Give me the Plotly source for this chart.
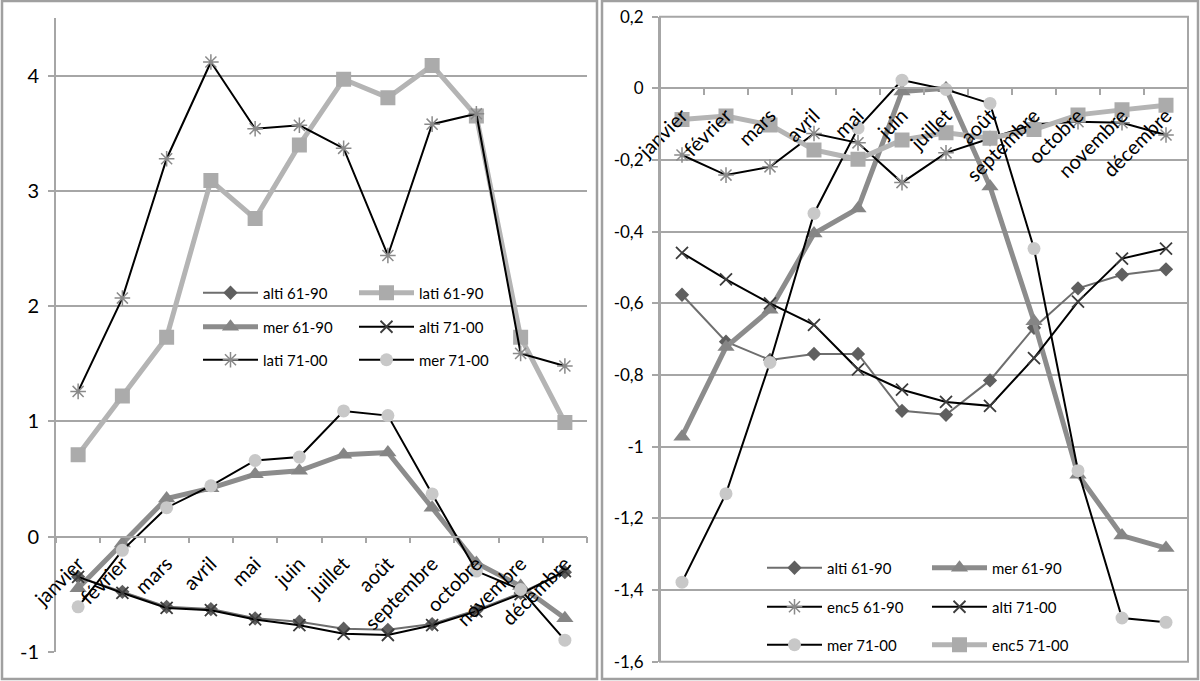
import plotly.graph_objects as go

mois = ["janvier", "février", "mars", "avril", "mai", "juin", "juillet",
        "août", "septembre", "octobre", "novembre", "décembre"]

# panneau gauche
g_alti_6190 = [-0.35, -0.48, -0.61, -0.63, -0.71, -0.74, -0.80, -0.81, -0.76, -0.64, -0.49, -0.31]
g_lati_6190 = [0.71, 1.22, 1.73, 3.09, 2.76, 3.40, 3.97, 3.81, 4.09, 3.65, 1.73, 0.99]
g_mer_6190 = [-0.45, -0.06, 0.33, 0.42, 0.54, 0.57, 0.71, 0.73, 0.25, -0.23, -0.43, -0.71]
g_alti_7100 = [-0.35, -0.49, -0.62, -0.64, -0.72, -0.77, -0.845, -0.855, -0.77, -0.65, -0.50, -0.30]
g_lati_7100 = [1.26, 2.07, 3.28, 4.12, 3.54, 3.57, 3.37, 2.44, 3.58, 3.67, 1.59, 1.48]
g_mer_7100 = [-0.61, -0.12, 0.25, 0.44, 0.66, 0.69, 1.09, 1.05, 0.37, -0.30, -0.46, -0.90]

# panneau droit
d_alti_6190 = [-0.576, -0.707, -0.758, -0.741, -0.741, -0.90, -0.911, -0.815, -0.668, -0.558, -0.52, -0.505]
d_mer_6190 = [-0.972, -0.722, -0.618, -0.405, -0.335, -0.009, 0.0, -0.274, -0.65, -1.078, -1.248, -1.283]
d_enc5_6190 = [-0.186, -0.242, -0.219, -0.126, -0.152, -0.263, -0.18, -0.14, -0.10, -0.093, -0.096, -0.13]
d_alti_7100 = [-0.459, -0.533, -0.60, -0.66, -0.784, -0.841, -0.875, -0.886, -0.753, -0.595, -0.475, -0.447]
d_mer_7100 = [-1.378, -1.131, -0.765, -0.349, -0.111, 0.023, -0.003, -0.042, -0.447, -1.067, -1.478, -1.49]
d_enc5_7100 = [-0.087, -0.077, -0.102, -0.172, -0.198, -0.144, -0.124, -0.139, -0.115, -0.074, -0.06, -0.047]

g_ticks = [-1, 0, 1, 2, 3, 4]
g_ticktext = ["-1", "0", "1", "2", "3", "4"]
d_ticks = [-1.6, -1.4, -1.2, -1.0, -0.8, -0.6, -0.4, -0.2, 0.0, 0.2]
d_ticktext = ["-1,6", "-1,4", "-1,2", "-1", "-0,8", "-0,6", "-0,4", "-0,2", "0", "0,2"]

W, H = 1200, 681
FONT = "Lato"
GRID = "#a6a6a6"

styles = {
    "alti61": dict(line=dict(color="#6e6e6e", width=2),
                   marker=dict(symbol="diamond", size=11, color="#5f5f5f")),
    "lati61": dict(line=dict(color="#b4b4b4", width=5),
                   marker=dict(symbol="square", size=15, color="#ababab")),
    "mer61": dict(line=dict(color="#8c8c8c", width=5),
                  marker=dict(symbol="triangle-up", size=15, color="#858585")),
    "alti71": dict(line=dict(color="black", width=2),
                   marker=dict(symbol="x-thin", size=12, color="#3c3c3c",
                               line=dict(color="#3c3c3c", width=1.8))),
    "star71": dict(line=dict(color="black", width=2),
                   marker=dict(symbol="asterisk", size=13, color="#8a8a8a",
                               line=dict(color="#8a8a8a", width=1.5))),
    "mer71": dict(line=dict(color="black", width=2),
                  marker=dict(symbol="circle", size=13, color="#c8c8c8")),
}

fig = go.Figure()


def add(y, name, style, xa, ya, legend):
    fig.add_trace(go.Scatter(x=mois, y=y, name=name, mode="lines+markers",
                             xaxis=xa, yaxis=ya, legend=legend,
                             hoverinfo="skip", **styles[style]))


add(g_alti_6190, "alti 61-90", "alti61", "x", "y", "legend")
add(g_lati_6190, "lati 61-90", "lati61", "x", "y", "legend")
add(g_mer_6190, "mer 61-90", "mer61", "x", "y", "legend2")
add(g_alti_7100, "alti 71-00", "alti71", "x", "y", "legend2")
add(g_lati_7100, "lati 71-00", "star71", "x", "y", "legend3")
add(g_mer_7100, "mer 71-00", "mer71", "x", "y", "legend3")

add(d_alti_6190, "alti 61-90", "alti61", "x2", "y2", "legend4")
add(d_mer_6190, "mer 61-90", "mer61", "x2", "y2", "legend4")
add(d_enc5_6190, "enc5 61-90", "star71", "x2", "y2", "legend5")
add(d_alti_7100, "alti 71-00", "alti71", "x2", "y2", "legend5")
add(d_mer_7100, "mer 71-00", "mer71", "x2", "y2", "legend6")
add(d_enc5_7100, "enc5 71-00", "lati61", "x2", "y2", "legend6")

# domaines en pixels -> fraction de la page
gx = [56 / W, 587 / W]
gy = [1 - 651.7 / H, 1 - 18.2 / H]
dx = [660 / W, 1188 / W]
dy = [1 - 661.7 / H, 1 - 16.7 / H]
g_range = [-1, 4.5]
d_range = [-1.6, 0.2]


def zero_pos(dom, rng):
    return dom[0] + (0 - rng[0]) / (rng[1] - rng[0]) * (dom[1] - dom[0])


xcommon = dict(type="category", tickson="boundaries", ticks="outside", ticklen=6,
               tickcolor=GRID, tickwidth=1.5, showline=True, linecolor=GRID,
               linewidth=1.5, showgrid=False, tickangle=-45, anchor="free",
               automargin=False, ticklabelstandoff=7,
               tickfont=dict(family=FONT, size=20, color="black"),
               range=[-0.5, 11.5])
ycommon = dict(ticks="outside", ticklen=6, tickcolor=GRID, tickwidth=1.5,
               showline=True, linecolor=GRID, linewidth=2, gridcolor=GRID,
               gridwidth=1.5, zeroline=False, automargin=False,
               ticklabelstandoff=5)

fig.update_layout(
    width=W, height=H,
    margin=dict(l=0, r=0, t=0, b=0, autoexpand=False),
    paper_bgcolor="white", plot_bgcolor="white",
    showlegend=True,
    xaxis=dict(domain=gx, position=zero_pos(gy, g_range), **xcommon),
    yaxis=dict(domain=gy, range=g_range, tickvals=g_ticks, ticktext=g_ticktext,
               anchor="x", tickfont=dict(family=FONT, size=20, color="black"),
               **ycommon),
    xaxis2=dict(domain=dx, position=zero_pos(dy, d_range), **xcommon),
    yaxis2=dict(domain=dy, range=d_range, tickvals=d_ticks, ticktext=d_ticktext,
                anchor="x2", tickfont=dict(family=FONT, size=17, color="black"),
                **ycommon),
)

leg = dict(orientation="h", xanchor="left", yanchor="middle",
           entrywidthmode="pixels", itemwidth=55, bgcolor="rgba(0,0,0,0)",
           font=dict(family=FONT, size=15, color="black"), itemclick=False,
           itemsizing="trace", tracegroupgap=0)
for i, yy in enumerate([293, 327, 360]):
    name = "legend" if i == 0 else "legend%d" % (i + 1)
    fig.update_layout({name: dict(x=198 / W, y=1 - yy / H, entrywidth=86, **leg)})
for i, yy in enumerate([568, 607, 645]):
    fig.update_layout({"legend%d" % (i + 4): dict(x=762 / W, y=1 - yy / H,
                                                  entrywidth=95, **leg)})

# cadres des graphiques et bordure de la zone de tracé droite
for x0, x1 in [(2, 597), (602, 1198)]:
    fig.add_shape(type="rect", xref="paper", yref="paper", x0=x0 / W, x1=x1 / W,
                  y0=2 / H, y1=1 - 1 / H, line=dict(color="#a0a0a0", width=2.5))
fig.add_shape(type="rect", xref="x2 domain", yref="y2 domain", x0=0, x1=1, y0=0, y1=1,
              line=dict(color=GRID, width=2))

fig.write_html("out.html", config={"displayModeBar": False},
               post_script="document.body.style.margin = '0';")
